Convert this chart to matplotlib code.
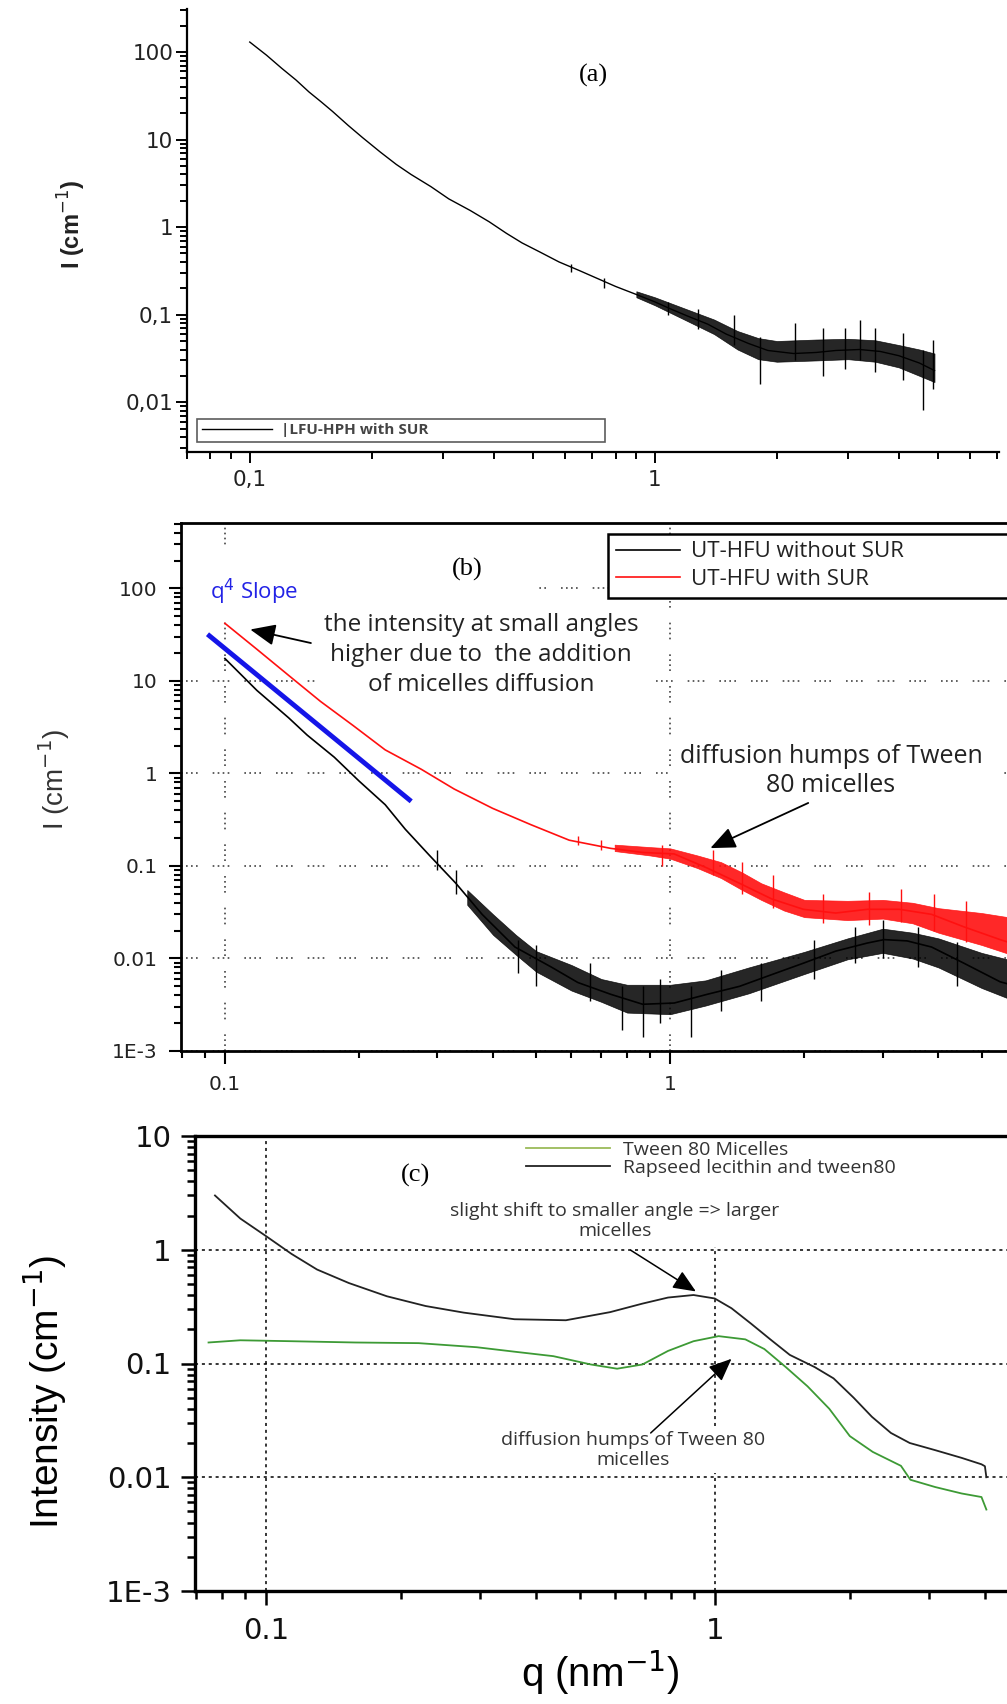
import numpy as np
import matplotlib
matplotlib.use("Agg")
import matplotlib.pyplot as plt
from matplotlib.patches import Rectangle
from matplotlib.ticker import FixedLocator, FixedFormatter, LogLocator, NullFormatter

plt.rcParams['font.family'] = ['Liberation Sans', 'DejaVu Sans']
NOTE_FONT = ['Open Sans', 'DejaVu Sans']

# ---------------- panel (a) data ----------------
qa = [0.1, 0.11, 0.12, 0.13, 0.14, 0.15, 0.16, 0.175, 0.19, 0.21, 0.23, 0.25, 0.28, 0.31,
      0.35, 0.39, 0.43, 0.47, 0.52, 0.58, 0.65, 0.72, 0.8, 0.9, 1.0, 1.1, 1.2, 1.35, 1.5,
      1.7, 1.9, 2.2, 2.5, 2.8, 3.2, 3.6, 4.0, 4.5, 4.9]
Ia = [130, 92, 65, 48, 35, 27, 21, 14.5, 10.5, 7.2, 5.2, 4.0, 2.9, 2.1,
      1.55, 1.15, 0.85, 0.66, 0.52, 0.40, 0.32, 0.26, 0.21, 0.17, 0.14, 0.115, 0.097, 0.078, 0.06,
      0.047, 0.039, 0.036, 0.037, 0.039, 0.040, 0.038, 0.034, 0.028, 0.023]
# noisy band (read envelope)
qa_band = [0.9, 1.0, 1.2, 1.4, 1.6, 1.8, 2.0, 2.5, 3.0, 3.5, 4.0, 4.5, 4.9]
Ia_lo = [0.158, 0.128, 0.085, 0.06, 0.04, 0.031, 0.029, 0.030, 0.031, 0.029, 0.025, 0.020, 0.017]
Ia_hi = [0.185, 0.158, 0.115, 0.088, 0.065, 0.054, 0.050, 0.052, 0.053, 0.051, 0.045, 0.040, 0.036]
qa_spk = [0.62, 0.75, 1.08, 1.28, 1.57, 1.82, 2.22, 2.6, 2.95, 3.2, 3.5, 4.1, 4.6, 4.85]
Ia_spk_lo = [0.31, 0.2, 0.1, 0.068, 0.045, 0.0163, 0.03, 0.02, 0.024, 0.03, 0.022, 0.018, 0.0081, 0.014]
Ia_spk_hi = [0.38, 0.26, 0.14, 0.115, 0.098, 0.055, 0.08, 0.07, 0.07, 0.088, 0.07, 0.062, 0.04, 0.052]

# ---------------- panel (b) data ----------------
qb_red = [0.1, 0.118, 0.139, 0.164, 0.194, 0.229, 0.276, 0.327, 0.399, 0.486, 0.593, 0.735,
          0.867, 1.02, 1.21, 1.43, 1.69, 1.99, 2.35, 2.77, 3.27, 3.86, 4.56, 5.5, 6.0]
Ib_red = [42, 22, 11.5, 6.0, 3.3, 1.8, 1.11, 0.68, 0.42, 0.28, 0.19, 0.155,
          0.14, 0.135, 0.095, 0.065, 0.044, 0.034, 0.031, 0.034, 0.034, 0.030, 0.022, 0.016, 0.014]
qb_red_band = [0.75, 0.9, 1.0, 1.15, 1.3, 1.45, 1.6, 1.8, 2.0, 2.5, 3.0, 3.5, 4.0, 5.0, 6.0]
Ib_red_lo = [0.145, 0.13, 0.12, 0.095, 0.074, 0.055, 0.043, 0.033, 0.028, 0.026, 0.027, 0.024, 0.019, 0.014, 0.0105]
Ib_red_hi = [0.17, 0.16, 0.155, 0.13, 0.11, 0.085, 0.065, 0.052, 0.043, 0.042, 0.043, 0.040, 0.035, 0.031, 0.027]
qb_red_spk = [0.62, 0.7, 0.96, 1.25, 1.45, 1.7, 2.2, 2.8, 3.3, 3.9, 4.6]
Ib_red_spk_lo = [0.17, 0.15, 0.1, 0.08, 0.05, 0.035, 0.024, 0.023, 0.025, 0.02, 0.015]
Ib_red_spk_hi = [0.21, 0.19, 0.17, 0.15, 0.11, 0.08, 0.05, 0.052, 0.056, 0.05, 0.042]

qb_blk = [0.1, 0.118, 0.139, 0.153, 0.176, 0.2, 0.229, 0.254, 0.288, 0.33, 0.378, 0.448, 0.54,
          0.62, 0.735, 0.867, 1.02, 1.21, 1.43, 1.69, 1.99, 2.35, 2.77, 3.02, 3.4, 3.86, 4.56, 5.5, 6.0]
Ib_blk = [17.5, 7.9, 4.0, 2.6, 1.5, 0.83, 0.46, 0.25, 0.13, 0.065, 0.030, 0.0133, 0.0081,
          0.0055, 0.0041, 0.0032, 0.0033, 0.0041, 0.005, 0.0067, 0.0089, 0.012, 0.0147, 0.016, 0.0155,
          0.0133, 0.0089, 0.0056, 0.005]
qb_blk_band = [0.35, 0.4, 0.45, 0.5, 0.6, 0.7, 0.8, 1.0, 1.2, 1.5, 2.0, 2.5, 3.0, 3.5, 4.0, 5.0, 6.0]
Ib_blk_lo = [0.038, 0.018, 0.011, 0.0072, 0.0045, 0.0034, 0.0026, 0.0025, 0.0031, 0.0042,
             0.0068, 0.0098, 0.0115, 0.0100, 0.0080, 0.0048, 0.0034]
Ib_blk_hi = [0.055, 0.03, 0.018, 0.012, 0.0085, 0.006, 0.0052, 0.0052, 0.0058, 0.008,
             0.0118, 0.0165, 0.021, 0.019, 0.0165, 0.0115, 0.0092]
qb_blk_spk = [0.3, 0.33, 0.454, 0.5, 0.66, 0.78, 0.87, 0.95, 1.11, 1.3, 1.6, 2.1, 2.6, 3.0, 3.6, 4.4]
Ib_blk_spk_lo = [0.09, 0.05, 0.007, 0.005, 0.0035, 0.0017, 0.0014, 0.002, 0.0014, 0.0027, 0.0035,
                 0.006, 0.009, 0.01, 0.008, 0.005]
Ib_blk_spk_hi = [0.15, 0.09, 0.016, 0.014, 0.009, 0.005, 0.005, 0.006, 0.005, 0.0075, 0.009,
                 0.016, 0.022, 0.026, 0.022, 0.015]

q_slope = [0.0914, 0.262]
I_slope = [32, 0.5]

# ---------------- panel (c) data ----------------
qc_mix = [0.077, 0.0877, 0.1, 0.114, 0.13, 0.153, 0.186, 0.227, 0.276, 0.358, 0.466, 0.585, 0.69,
          0.787, 0.897, 1.0, 1.09, 1.205, 1.33, 1.47, 1.67, 1.84, 2.04, 2.24, 2.47, 2.72, 3.1,
          3.55, 3.93, 4.0, 4.03]
Ic_mix = [3.0, 1.88, 1.32, 0.92, 0.67, 0.51, 0.39, 0.32, 0.28, 0.245, 0.24, 0.283, 0.336,
          0.38, 0.40, 0.373, 0.306, 0.224, 0.163, 0.119, 0.093, 0.074, 0.050, 0.034, 0.0245, 0.020,
          0.0173, 0.0148, 0.013, 0.0125, 0.010]
qc_tw = [0.0745, 0.0877, 0.114, 0.158, 0.219, 0.295, 0.358, 0.437, 0.53, 0.606, 0.69, 0.787,
         0.897, 1.02, 1.17, 1.29, 1.44, 1.61, 1.8, 2.0, 2.25, 2.6, 2.73, 3.1, 3.55, 3.93, 4.03]
Ic_tw = [0.153, 0.16, 0.157, 0.153, 0.151, 0.139, 0.127, 0.116, 0.098, 0.090, 0.098, 0.129,
         0.157, 0.174, 0.163, 0.134, 0.093, 0.063, 0.040, 0.023, 0.0167, 0.0126, 0.0095, 0.0082,
         0.0072, 0.0067, 0.0052]

# tick labels
xt_a, xl_a = [0.1, 1], ["0,1", "1"]
yt_a, yl_a = [0.01, 0.1, 1, 10, 100], ["0,01", "0,1", "1", "10", "100"]
xt_b, xl_b = [0.1, 1], ["0.1", "1"]
yt_b, yl_b = [1e-3, 0.01, 0.1, 1, 10, 100], ["1E-3", "0.01", "0.1", "1", "10", "100"]
yt_c, yl_c = [1e-3, 0.01, 0.1, 1, 10], ["1E-3", "0.01", "0.1", "1", "10"]

W, H = 1007, 1704
fig = plt.figure(figsize=(W / 100, H / 100), dpi=100)


def box(l, t, r, b):
    return [l / W, 1 - b / H, (r - l) / W, (b - t) / H]


def fxy(x, y):
    return x / W, 1 - y / H


def setup(ax, xt, xl, yt, yl, size, fam, maj, mino, width, padx, pady, col='black'):
    ax.set_xscale('log')
    ax.set_yscale('log')
    ax.xaxis.set_major_locator(FixedLocator(xt))
    ax.xaxis.set_major_formatter(FixedFormatter(xl))
    ax.yaxis.set_major_locator(FixedLocator(yt))
    ax.yaxis.set_major_formatter(FixedFormatter(yl))
    ax.xaxis.set_minor_locator(LogLocator(base=10, subs=np.arange(2, 10), numticks=20))
    ax.yaxis.set_minor_locator(LogLocator(base=10, subs=np.arange(2, 10), numticks=20))
    ax.xaxis.set_minor_formatter(NullFormatter())
    ax.yaxis.set_minor_formatter(NullFormatter())
    ax.tick_params(which='both', direction='out', width=width, top=False, right=False)
    ax.tick_params(which='major', length=maj)
    ax.tick_params(which='minor', length=mino)
    ax.tick_params(axis='x', pad=padx)
    ax.tick_params(axis='y', pad=pady)
    for lab in ax.get_xticklabels() + ax.get_yticklabels():
        lab.set_fontsize(size)
        lab.set_family(fam)
        lab.set_color(col)


def note(ax, x, y, s, size, ls, pad, color='#222'):
    # text box placed in figure pixels but drawn inside the axes (below the curves)
    return ax.text(*fxy(x, y), s, transform=fig.transFigure, family=NOTE_FONT, fontsize=size,
                   ha='center', va='center', color=color, linespacing=ls, zorder=3,
                   bbox=dict(facecolor='white', edgecolor='none', pad=pad))


# ================= (a) =================
ax_a = fig.add_axes(box(187, 9, 999, 452))
ax_a.plot(qa, Ia, color='black', lw=1.0, zorder=4, label='|LFU-HPH with SUR')
ax_a.fill_between(qa_band, Ia_lo, Ia_hi, color='black', lw=0.5, alpha=0.85, zorder=4)
ax_a.vlines(qa_spk, Ia_spk_lo, Ia_spk_hi, color='black', lw=1.0, zorder=4)
ax_a.set_xlim(0.07, 7.07)
ax_a.set_ylim(0.0027, 310)
for s in ['top', 'right']:
    ax_a.spines[s].set_visible(False)
for s in ['left', 'bottom']:
    ax_a.spines[s].set_linewidth(1.6)
setup(ax_a, xt_a, xl_a, yt_a, yl_a, 15.5, ['DejaVu Sans'], 8, 5, 1.4, 5, 2, '#222')
leg_a = ax_a.legend(loc='lower left', bbox_to_anchor=((197 - 187) / 812, (452 - 442) / 443, (605 - 197) / 812, 0.06),
                    mode='expand', borderaxespad=0, borderpad=0.3, handlelength=4.6, handletextpad=0.6,
                    fancybox=False, edgecolor='#333',
                    prop={'size': 11, 'weight': 'bold', 'family': NOTE_FONT})
leg_a.get_frame().set_linewidth(1.2)
for t in leg_a.get_texts():
    t.set_color('#444')
fig.text(*fxy(593, 75), "(a)", family='Liberation Serif', fontsize=19, ha='center', va='center')
fig.text(*fxy(72, 224), "I (cm$^{-1}$)", fontsize=17, fontweight='bold', rotation=90,
         ha='center', va='center', color='#222')

# ================= (b) =================
ax_b = fig.add_axes(box(181, 523, 1007, 1051))
ax_b.plot(qb_blk, Ib_blk, color='black', lw=1.2, zorder=4, label='UT-HFU without SUR')
ax_b.fill_between(qb_blk_band, Ib_blk_lo, Ib_blk_hi, color='black', lw=0.5, alpha=0.85, zorder=4)
ax_b.vlines(qb_blk_spk, Ib_blk_spk_lo, Ib_blk_spk_hi, color='black', lw=1.0, zorder=4)
ax_b.plot(qb_red, Ib_red, color='#ff1010', lw=1.2, zorder=5, label='UT-HFU with SUR')
ax_b.fill_between(qb_red_band, Ib_red_lo, Ib_red_hi, color='#ff1010', lw=0.5, alpha=0.9, zorder=5)
ax_b.vlines(qb_red_spk, Ib_red_spk_lo, Ib_red_spk_hi, color='#ff1010', lw=1.0, zorder=5)
ax_b.plot(q_slope, I_slope, color='#1515e8', lw=3.5, solid_capstyle='butt', zorder=6)
ax_b.set_xlim(0.0797, 5.7)
ax_b.set_ylim(1e-3, 510)
ax_b.spines['right'].set_visible(False)
for s in ['left', 'bottom', 'top']:
    ax_b.spines[s].set_linewidth(2.0)
setup(ax_b, xt_b, xl_b, yt_b, yl_b, 14.5, ['DejaVu Sans'], 9, 5, 1.5, 8, 8, '#222')
ax_b.set_axisbelow(True)
ax_b.grid(which='major', color='#444', lw=1.2, linestyle=(0, (1, 2, 1, 2, 1, 2, 1, 9)))
# white area behind the slope label, as in the source image
ax_b.add_patch(Rectangle((0.003, 0.839), 0.427, 0.104, transform=ax_b.transAxes,
                         facecolor='white', edgecolor='none', zorder=1.5))
leg_b = ax_b.legend(loc='upper left', bbox_to_anchor=((608 - 181) / 826, (1051 - 539) / 528, 0.52, 0.01),
                    mode='expand', borderaxespad=0, borderpad=0.35, labelspacing=0.3,
                    handlelength=2.9, handletextpad=0.5, fancybox=False, edgecolor='black',
                    framealpha=1, prop={'size': 16, 'family': NOTE_FONT})
leg_b.get_frame().set_linewidth(1.8)
leg_b.set_zorder(7)
for t in leg_b.get_texts():
    t.set_color('#222')

fig.text(*fxy(467, 569), "(b)", family='Liberation Serif', fontsize=19, ha='center', va='center')
note(ax_b, 254, 592, "q$^{4}$ Slope", 16, 1.0, 4, color='#2222e6')
note(ax_b, 481, 655, "the intensity at small angles\nhigher due to  the addition\nof micelles diffusion",
     17.5, 1.32, 6)
note(ax_b, 831, 771, "diffusion humps of Tween\n80 micelles", 18, 1.25, 6)
arrow = dict(arrowstyle='-|>,head_length=0.7,head_width=0.3', color='black', lw=1.3,
             shrinkA=0, shrinkB=0, mutation_scale=22)
ax_b.annotate('', xy=(0.114, 36), xytext=(0.156, 25.7), arrowprops=arrow, zorder=7)
ax_b.annotate('', xy=(1.23, 0.156), xytext=(2.04, 0.48), arrowprops=arrow, zorder=7)
fig.text(*fxy(54, 780), "I (cm$^{-1}$)", fontsize=20, rotation=90, ha='center', va='center', color='#333')

# ================= (c) =================
ax_c = fig.add_axes(box(195, 1136, 1007, 1591))
ax_c.plot(qc_tw, Ic_tw, color='#3d9a35', lw=1.3, zorder=4, label='Tween 80 Micelles')
ax_c.plot(qc_mix, Ic_mix, color='#222222', lw=1.3, zorder=4, label='Rapseed lecithin and tween80')
ax_c.set_xlim(0.0695, 4.48)
ax_c.set_ylim(1e-3, 10)
ax_c.spines['right'].set_visible(False)
for s in ['left', 'bottom', 'top']:
    ax_c.spines[s].set_linewidth(2.4)
setup(ax_c, [0.1, 1], ["0.1", "1"], yt_c, yl_c, 21, ['DejaVu Sans'], 10, 6, 1.8, 9, 7, '#111')
ax_c.set_axisbelow(True)
ax_c.grid(which='major', color='black', lw=1.1, linestyle=(0, (2, 2.5)))
# pasted white text area above the y=1 line hides the upper part of the q=1 grid line
ax_c.add_patch(Rectangle((0.6, 0.757), 0.1, 0.24, transform=ax_c.transAxes,
                         facecolor='white', edgecolor='none', zorder=1.5))
leg_c = ax_c.legend(loc='upper left', bbox_to_anchor=fxy(526, 1141), bbox_transform=fig.transFigure,
                    borderaxespad=0, borderpad=0, labelspacing=0.0, handlelength=4.3,
                    handletextpad=0.7, frameon=False, prop={'size': 14, 'family': NOTE_FONT})
leg_c.legend_handles[0].set_color('#9bbb59')
leg_c.set_zorder(7)
for t in leg_c.get_texts():
    t.set_color('#333')
fig.text(*fxy(415, 1175), "(c)", family='Liberation Serif', fontsize=19, ha='center', va='center')
note(ax_c, 615, 1221, "slight shift to smaller angle => larger\nmicelles", 14, 1.15, 1, color='#333')
note(ax_c, 633, 1450, "diffusion humps of Tween 80\nmicelles", 14, 1.2, 3, color='#333')
arrow_c = dict(arrowstyle='-|>,head_length=0.7,head_width=0.3', color='black', lw=1.1,
               shrinkA=0, shrinkB=0, mutation_scale=20)
ax_c.annotate('', xy=(0.908, 0.43), xytext=(0.65, 0.99), arrowprops=arrow_c, zorder=7)
ax_c.annotate('', xy=(1.09, 0.11), xytext=(0.72, 0.0245), arrowprops=arrow_c, zorder=7)
fig.text(*fxy(45, 1392), "Intensity (cm$^{-1}$)", fontsize=28, rotation=90, ha='center', va='center')
fig.text(*fxy(600, 1673), "q (nm$^{-1}$)", fontsize=29, ha='center', va='center')

fig.savefig("out.png", dpi=100)
